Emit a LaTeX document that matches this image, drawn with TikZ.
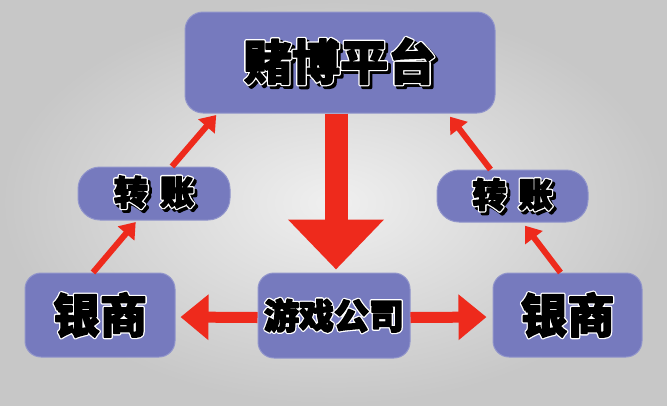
\documentclass[tikz,border=0pt]{standalone}
\usepackage{fontspec}
\newfontfamily\cjk{Noto Sans CJK SC}
\usetikzlibrary{arrows.meta,positioning}
\definecolor{BoxBlue}{RGB}{118,122,190}
\definecolor{ArrowRed}{RGB}{238,42,28}
\newcommand{\halotext}[1]{%
  \makebox[0pt][l]{\special{pdf:literal direct 2 Tr 4 w 1 j 1 G}#1}%
  \special{pdf:literal direct 2 Tr 1.4 w 1 j 0 G}#1\special{pdf:literal direct 0 Tr 0 w 0 G}}
\newcommand{\shadowtext}[1]{%
  \makebox[0pt][l]{\hspace{2.8pt}\raisebox{-2.8pt}{\special{pdf:literal direct 2 Tr 4 w 1 j 0 G}#1}}%
  \halotext{#1}}

\begin{document}
\begin{tikzpicture}[x=1pt, y=-1pt,
    box/.style={fill=BoxBlue, draw=BoxBlue!80!white, line width=1pt, rounded corners=16pt, inner sep=0pt},
    thinarrow/.style={draw=ArrowRed, line width=6pt, -{Triangle[length=15pt,width=21pt]}},
    sidearrow/.style={draw=ArrowRed, line width=11pt, -{Triangle[length=28pt,width=44pt]}}]
    \useasboundingbox (0,0) rectangle (667,405);
    \shade[inner color=white!94!black, outer color=black!22] (0,0) rectangle (667,405);
    \node[box, minimum width=310pt, minimum height=101pt, rounded corners=18pt,
        font=\cjk\bfseries\fontsize{48}{50}\selectfont] (platform) at (340,62.5) {\shadowtext{赌博平台}\hspace{12pt}};
    \node[box, minimum width=152pt, minimum height=53pt, rounded corners=22pt,
        font=\cjk\bfseries\fontsize{34}{36}\selectfont] (transferL) at (154,193.5) {\shadowtext{转\hspace{12pt}账}};
    \node[box, minimum width=151pt, minimum height=52pt, rounded corners=22pt,
        font=\cjk\bfseries\fontsize{34}{36}\selectfont] (transferR) at (512.5,196) {\shadowtext{转\hspace{12pt}账}};
    \node[box, minimum width=150pt, minimum height=84pt,
        font=\cjk\bfseries\fontsize{47}{49}\selectfont] (bankL) at (100,315) {\halotext{银商}};
    \node[box, minimum width=149pt, minimum height=84pt,
        font=\cjk\bfseries\fontsize{47}{49}\selectfont] (bankR) at (567.5,315) {\halotext{银商}};
    \node[box, minimum width=152pt, minimum height=85pt,
        font=\cjk\bfseries\fontsize{35}{37}\selectfont] (company) at (334,315.5) {\halotext{游戏公司}\hspace{8pt}};
    \draw[ArrowRed, line width=23pt, -{Triangle[length=50pt,width=93pt]}, shorten >=3pt]
        ([xshift=2pt]platform.south -| company.north) -- ([xshift=2pt]company.north);
    \draw[sidearrow, shorten >=5pt] ([yshift=-2pt]company.west) -- ([yshift=-2pt]bankL.east);
    \draw[sidearrow, shorten >=6pt] ([yshift=-2pt]company.east) -- ([yshift=-2pt]bankR.west);
    \draw[thinarrow, shorten >=2pt] ([xshift=-7pt]bankL.north) -- ([xshift=-17pt]transferL.south);
    \draw[thinarrow, shorten >=2pt] ([xshift=18pt]transferL.north) -- ([xshift=33pt]platform.south west);
    \draw[thinarrow, shorten >=4pt] ([xshift=-7pt]bankR.north) -- ([xshift=10pt]transferR.south);
    \draw[thinarrow, shorten >=4pt] ([xshift=-22pt]transferR.north) -- ([xshift=-48pt]platform.south east);
\end{tikzpicture}
\end{document}
